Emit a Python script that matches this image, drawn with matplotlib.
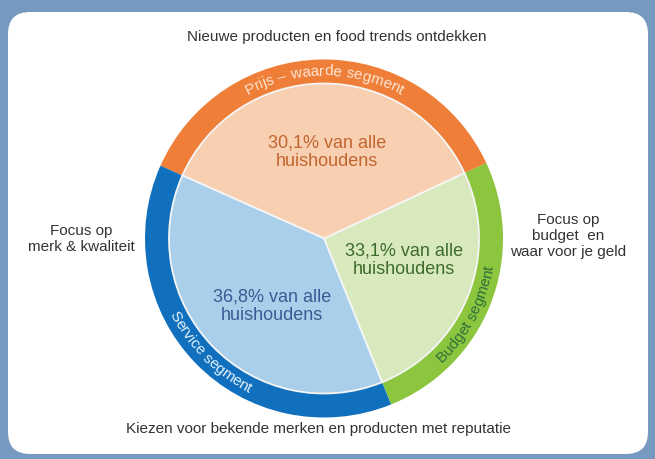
import numpy as np
import matplotlib
matplotlib.use("Agg")
import matplotlib.pyplot as plt
from matplotlib.patches import FancyBboxPatch
from matplotlib.font_manager import FontProperties, findfont, get_font

W, H, DPI = 655, 459, 100

# segments, counter-clockwise from the bottom boundary
segments = ["Budget segment", "Prijs – waarde segment", "Service segment"]
arc_degrees = [93, 131, 136]          # wedge sizes as drawn in the picture
shares = ["33,1%", "30,1%", "36,8%"]
ring_colors = ["#8cc63f", "#ef7f38", "#1170bd"]
fill_colors = ["#d8e9be", "#f9cfb2", "#a9cfea"]
share_colors = ["#3e6c2c", "#c2652d", "#3b5a93"]
ring_text_colors = ["#2f6f3a", "#fde4d2", "#e3f1fb"]

top_label = "Nieuwe producten en food trends ontdekken"
bottom_label = "Kiezen voor bekende merken en producten met reputatie"
left_label = "Focus op\nmerk & kwaliteit"
right_label = "Focus op\nbudget  en\nwaar voor je geld"

FONT = "Liberation Sans"
CX, CY = 324, H - 238.5       # pie centre in pixel coords (y up)
R_OUT, R_IN = 179, 155


def curved_text(ax, s, center_deg, radius, ccw, color, size):
    """Lay out string s character by character along a circular arc."""
    fp = FontProperties(family=FONT, size=size)
    font = get_font(findfont(fp))
    font.set_size(size, DPI)
    widths = []
    for ch in s:
        g = font.load_char(ord(ch))
        widths.append(g.linearHoriAdvance / 65536)   # pixels
    edges = np.concatenate([[0], np.cumsum(widths)])
    total = edges[-1]
    for i, ch in enumerate(s):
        if ch == " ":
            continue
        mid = (edges[i] + edges[i + 1]) / 2 - total / 2
        off = np.degrees(mid / radius)
        th = center_deg + off if ccw else center_deg - off
        rot = th + 90 if ccw else th - 90
        x = CX + radius * np.cos(np.radians(th))
        y = CY + radius * np.sin(np.radians(th))
        ax.text(x, y, ch, fontproperties=fp, color=color, rotation=rot,
                rotation_mode="anchor", ha="center", va="baseline")


fig = plt.figure(figsize=(W / DPI, H / DPI), dpi=DPI, facecolor="#7599bf")
ax = fig.add_axes([0, 0, 1, 1])

card = FancyBboxPatch((8, 5), 640, 442, boxstyle="round,pad=0,rounding_size=22",
                      facecolor="white", edgecolor="none", zorder=0)
ax.add_patch(card)

start = -68
ax.pie(arc_degrees, radius=R_OUT, center=(CX, CY), startangle=start,
       colors=ring_colors, wedgeprops=dict(width=R_OUT - R_IN, edgecolor="none"))
ax.pie(arc_degrees, radius=R_IN, center=(CX, CY), startangle=start,
       colors=fill_colors, wedgeprops=dict(edgecolor="#f5f5f5", linewidth=1.3))

# curved segment names in the ring: (centre angle, counter-clockwise?)
ring_layout = [(-28, True), (90, False), (225, True)]
for name, (ang, ccw), col in zip(segments, ring_layout, ring_text_colors):
    r = (R_OUT + R_IN) / 2 + (4.5 if ccw else -4)
    curved_text(ax, name, ang, r, ccw, col, 11)

# share labels inside the wedges
share_pos = [(404, 260), (327, 152), (272, 306)]
for txt, (x, y), col in zip(shares, share_pos, share_colors):
    ax.text(x, H - y, f"{txt} van alle\nhuishoudens", ha="center", va="center",
            fontsize=13, family=FONT, color=col, linespacing=1.15)

ax.text(337, H - 37, top_label, ha="center", va="center", fontsize=11,
        family=FONT, color="#333333")
ax.text(318, H - 429, bottom_label, ha="center", va="center", fontsize=11,
        family=FONT, color="#333333")
ax.text(81, H - 239, left_label, ha="center", va="center", fontsize=11,
        family=FONT, color="#333333")
ax.text(568, H - 236, right_label, ha="center", va="center", fontsize=11,
        family=FONT, color="#333333")

ax.set_xlim(0, W)
ax.set_ylim(0, H)
ax.set_aspect("equal")
ax.set_axis_off()
fig.savefig("out.png", dpi=DPI, facecolor=fig.get_facecolor())
